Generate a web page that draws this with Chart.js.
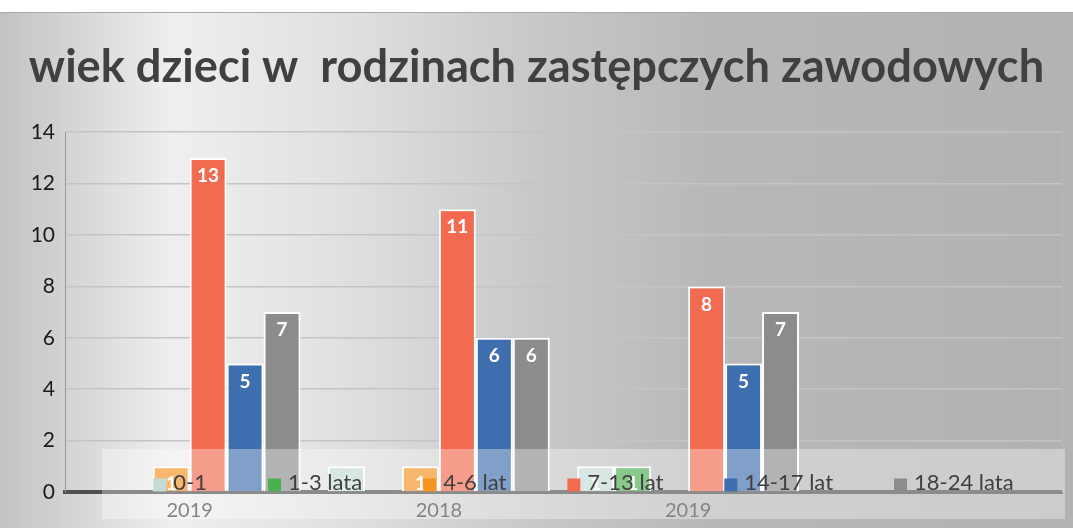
<!DOCTYPE html>
<html><head><meta charset="utf-8">
<script src="https://cdn.jsdelivr.net/npm/chart.js@4.4.0/dist/chart.umd.min.js"></script>
<style>html,body{margin:0;padding:0;background:#fff;overflow:hidden}#wrap{width:1073px;height:528px;position:relative}</style>
</head><body><div id="wrap"><canvas id="c" width="1073" height="528"></canvas></div>
<script>
const titleText = 'wiek dzieci w  rodzinach zastępczych zawodowych';
const categories = ['2019', '2018', '2019', ''];
const seriesNames = ['0-1', '1-3 lata', '4-6 lat', '7-13 lat', '14-17 lat', '18-24 lata'];
const v0_1   = [0, 1, 1, null];
const v1_3   = [0, 0, 1, null];
const v4_6   = [1, 1, 0, null];
const v7_13  = [13, 11, 8, null];
const v14_17 = [5, 6, 5, null];
const v18_24 = [7, 6, 7, null];
const yMin = 0, yMax = 14, yStep = 2;
const seriesColors = ['#c4dad6', '#4caf50', '#f39423', '#f26a50', '#3f6eae', '#8c8c8c'];

const FONT = 'Lato, "Open Sans", sans-serif';
const mctx = document.createElement('canvas').getContext('2d');
mctx.font = 'bold 40px ' + FONT;
const titleSize = Math.round(40 * 1015 / mctx.measureText(titleText).width * 10) / 10;

const allValues = [v0_1, v1_3, v4_6, v7_13, v14_17, v18_24];
const datasets = seriesNames.map((n, i) => ({
  label: n,
  data: allValues[i],
  backgroundColor: seriesColors[i],
  borderColor: '#ffffff',
  borderWidth: c => (c.raw ? 2 : 0),
  borderSkipped: 'start'
}));

const bgPlugin = {
  id: 'bg',
  beforeDraw(chart) {
    const ctx = chart.ctx, W = chart.width, H = chart.height;
    ctx.save();
    ctx.fillStyle = '#ffffff';
    ctx.fillRect(0, 0, W, H);
    const g = ctx.createLinearGradient(0, 0, W, 0);
    g.addColorStop(0, '#c2c2c2');
    g.addColorStop(0.16, '#efefef');
    g.addColorStop(0.32, '#e0e0e0');
    g.addColorStop(0.50, '#c8c8c8');
    g.addColorStop(0.66, '#b8b8b8');
    g.addColorStop(1, '#b2b2b2');
    ctx.fillStyle = g;
    ctx.fillRect(0, 12, W, H - 12);
    ctx.strokeStyle = '#a8a8a8';
    ctx.lineWidth = 1;
    ctx.beginPath(); ctx.moveTo(0, 12.5); ctx.lineTo(W, 12.5); ctx.stroke();
    ctx.restore();
  },
  beforeDatasetsDraw(chart) {
    const ctx = chart.ctx, a = chart.chartArea;
    ctx.save();
    ctx.strokeStyle = '#a9bccd';
    ctx.lineWidth = 1;
    ctx.beginPath(); ctx.moveTo(a.right + 0.5, a.top); ctx.lineTo(a.right + 0.5, a.bottom); ctx.stroke();
    ctx.restore();
  },
  afterDatasetsDraw(chart) {
    const ctx = chart.ctx;
    ctx.save();
    ctx.fillStyle = '#ffffff';
    ctx.font = 'bold 19px ' + FONT;
    ctx.textAlign = 'center';
    ctx.textBaseline = 'middle';
    chart.data.datasets.forEach((ds, di) => {
      const meta = chart.getDatasetMeta(di);
      meta.data.forEach((el, i) => {
        const v = ds.data[i];
        if (!v) return;
        ctx.fillText(String(v), el.x, el.y + 18);
      });
    });
    ctx.restore();
  },
  afterDraw(chart) {
    const ctx = chart.ctx, a = chart.chartArea;
    ctx.save();
    const bx = a.left + 37, by = a.bottom - 43, bw = chart.width - 8 - bx, bh = 70;
    ctx.fillStyle = 'rgba(255,255,255,0.34)';
    ctx.fillRect(bx, by, bw, bh);
    ctx.font = '22px ' + FONT;
    ctx.textBaseline = 'middle';
    const box = 13, gapText = 7, gapItem = 61;
    const items = chart.data.datasets.map(d => ({ t: d.label, c: d.backgroundColor, w: ctx.measureText(d.label).width }));
    const total = items.reduce((s, it) => s + box + gapText + it.w, 0) + gapItem * (items.length - 1);
    let x = bx + bw / 2 - total / 2;
    const cy = a.bottom - 9;
    items.forEach(it => {
      ctx.fillStyle = it.c;
      ctx.fillRect(x, cy - box / 2 + 2, box, box);
      ctx.fillStyle = '#404040';
      ctx.fillText(it.t, x + box + gapText, cy);
      x += box + gapText + it.w + gapItem;
    });
    ctx.restore();
  }
};

new Chart(document.getElementById('c'), {
  type: 'bar',
  data: { labels: categories, datasets },
  options: {
    responsive: false,
    animation: false,
    devicePixelRatio: 1,
    layout: { padding: { top: 12, left: 11, right: 11, bottom: 8 } },
    datasets: { bar: { categoryPercentage: 0.89, barPercentage: 1.0 } },
    plugins: {
      legend: { display: false },
      tooltip: { enabled: false },
      title: {
        display: true,
        text: titleText,
        color: '#404040',
        font: { family: FONT, size: titleSize, weight: 'bold' },
        padding: { top: 28, bottom: 38 }
      }
    },
    scales: {
      x: {
        grid: { display: false, drawTicks: false },
        border: { display: true, color: '#505050', width: 4 },
        ticks: { color: '#454545', font: { family: FONT, size: 20 }, padding: 7 },
        afterFit(s) { s.height = 28; }
      },
      y: {
        min: yMin, max: yMax,
        ticks: { stepSize: yStep, color: '#1a1a1a', font: { family: FONT, size: 21 }, padding: 10 },
        grid: { color: c => (c.tick && c.tick.value === 0 ? 'rgba(0,0,0,0)' : '#c4c4c4'), lineWidth: 1.5, drawTicks: false },
        border: { display: true, color: '#9a9a9a', width: 1 },
        afterFit(s) { s.width = 54; }
      }
    }
  },
  plugins: [bgPlugin]
});
</script>
</body></html>
